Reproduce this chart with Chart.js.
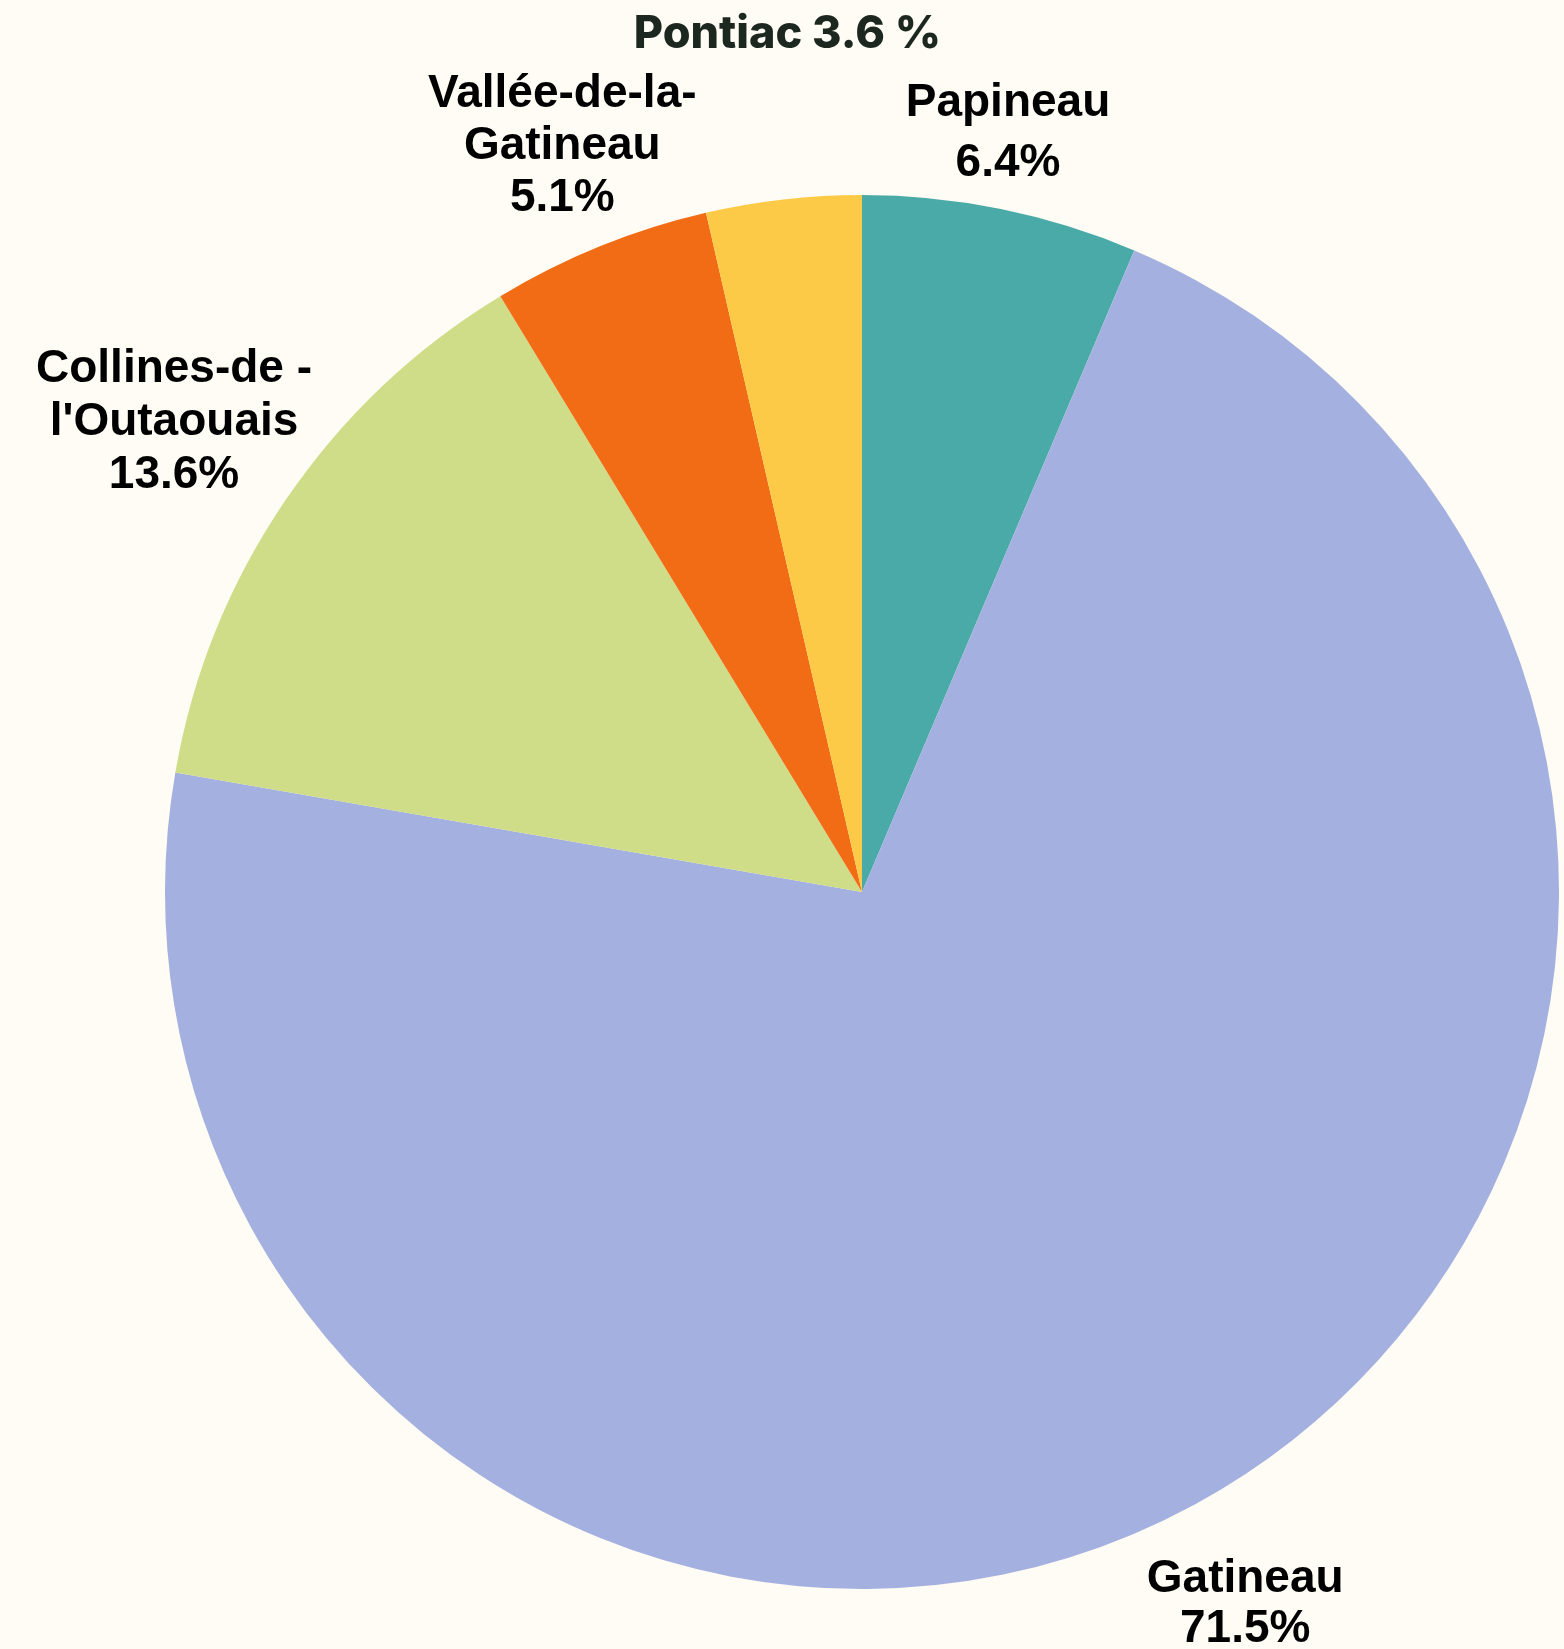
<!DOCTYPE html>
<html>
<head>
<meta charset="utf-8">
<script src="https://cdn.jsdelivr.net/npm/chart.js@4/dist/chart.umd.min.js"></script>
<style>
  html, body { margin: 0; padding: 0; background: #fefcf4; }
  canvas { display: block; }
</style>
</head>
<body>
<canvas id="pie" width="1564" height="1649"></canvas>
<script>
const regions = ["Papineau", "Gatineau", "Collines-de -l'Outaouais", "Vallée-de-la-Gatineau", "Pontiac"];
const shares = [6.4, 71.5, 13.6, 5.1, 3.6];
const colours = ["#4aaaa8", "#a4b0df", "#cfdc88", "#f26c16", "#fdca47"];

// label text lines, as they appear in the picture
const labelLines = [
  ["Papineau", "6.4%"],
  ["Gatineau", "71.5%"],
  ["Collines-de -", "l'Outaouais", "13.6%"],
  ["Vallée-de-la-", "Gatineau", "5.1%"],
  ["Pontiac 3.6 %"],
];

// where each label sits: distance as a share of the radius, small angle nudge (deg)
const labelPlace = [
  { dist: 1.108, nudge: -0.6, lineH: 60, font: "bold 46px 'Liberation Sans'", color: "#000" },
  { dist: 1.161, nudge: 0.3, lineH: 50, font: "bold 46px 'Liberation Sans'", color: "#000" },
  { dist: 1.195, nudge: 0, lineH: 53, font: "bold 46px 'Liberation Sans'", color: "#000" },
  { dist: 1.153, nudge: 0.2, lineH: 52, font: "bold 46px 'Liberation Sans'", color: "#000" },
  { dist: 1.235, nudge: 1.5, lineH: 50, font: "800 45px Inter", color: "#1c2720" },
];

const sliceLabels = {
  id: "sliceLabels",
  afterDatasetsDraw(chart) {
    const ctx = chart.ctx;
    const arcs = chart.getDatasetMeta(0).data;
    arcs.forEach((arc, i) => {
      const p = labelPlace[i];
      const mid = (arc.startAngle + arc.endAngle) / 2 + p.nudge * Math.PI / 180;
      const r = arc.outerRadius * p.dist;
      const x = arc.x + Math.cos(mid) * r;
      const y = arc.y + Math.sin(mid) * r;
      const lines = labelLines[i];
      ctx.save();
      ctx.font = p.font;
      ctx.fillStyle = p.color;
      ctx.textAlign = "center";
      ctx.textBaseline = "middle";
      const top = y - (lines.length - 1) * p.lineH / 2;
      lines.forEach((line, j) => ctx.fillText(line, x, top + j * p.lineH));
      ctx.restore();
    });
  },
};

new Chart(document.getElementById("pie").getContext("2d"), {
  type: "pie",
  data: {
    labels: regions,
    datasets: [{
      data: shares,
      backgroundColor: colours,
      borderWidth: 0,
    }],
  },
  options: {
    responsive: false,
    animation: false,
    layout: { padding: { top: 195, bottom: 60, left: 165, right: 5 } },
    plugins: {
      legend: { display: false },
      tooltip: { enabled: false },
    },
  },
  plugins: [sliceLabels],
});
</script>
</body>
</html>
